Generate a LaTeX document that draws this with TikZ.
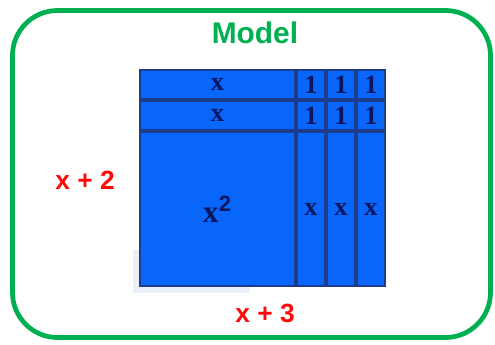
\documentclass[tikz,border=0pt]{standalone}
\usepackage{fontspec}
\setmainfont{Liberation Sans}
\newfontfamily\tileserif{Liberation Serif}
\usetikzlibrary{positioning}
\definecolor{ModelGreen}{HTML}{00B050}
\definecolor{TileBlue}{HTML}{0866FA}
\definecolor{TileEdge}{HTML}{1C3C8C}
\definecolor{TileInk}{HTML}{0C1660}
\definecolor{LabelRed}{HTML}{FF0A0A}
\definecolor{ShadowBlue}{HTML}{EAF0F8}

\begin{document}
\begin{tikzpicture}[
      node distance=0.04cm and 0.04cm,
      tile/.style={draw=TileEdge,line width=0.6pt,fill=TileBlue,text=TileInk,
                   inner sep=0pt,outer sep=0pt,font=\tileserif\bfseries\fontsize{15}{17}\selectfont},
      xstrip/.style={tile,minimum width=3.1cm,minimum height=0.58cm},
      unittile/.style={tile,minimum width=0.56cm,minimum height=0.58cm},
      xcol/.style={tile,minimum width=0.56cm,minimum height=3.08cm},
      sqtile/.style={tile,minimum width=3.1cm,minimum height=3.08cm},
      lbl/.style={font=\bfseries\fontsize{15}{17}\selectfont,text=LabelRed},
    ]
    \useasboundingbox (0,0) rectangle (9.9,6.9);
    % frame
    \draw[ModelGreen,line width=2.7pt,rounded corners=0.9cm] (0.25,0.15) rectangle (9.81,6.69);
    \node[font=\bfseries\fontsize{17}{19}\selectfont,text=ModelGreen] (title) at (5.1,6.24) {Model};
    % faint shadow under the square
    \fill[ShadowBlue] (2.66,1.04) rectangle (5.0,1.9);

    \node[xstrip] (x1) at (4.35,5.21) {x};
    \node[xstrip,below=of x1] (x2) {x};
    \node[sqtile,below=of x2] (sq) {\fontsize{18}{20}\selectfont x$^{\mathbf{2}}$};

    \node[unittile,right=of x1] (u11) {1};
    \node[unittile,right=of u11] (u12) {1};
    \node[unittile,right=of u12] (u13) {1};
    \node[unittile,right=of x2] (u21) {1};
    \node[unittile,right=of u21] (u22) {1};
    \node[unittile,right=of u22] (u23) {1};

    \node[xcol,right=of sq] (c1) {x};
    \node[xcol,right=of c1] (c2) {x};
    \node[xcol,right=of c2] (c3) {x};

    \node[lbl] (side) at (1.7,3.3) {x + 2};
    \node[lbl] (base) at (5.3,0.64) {x + 3};
  \end{tikzpicture}
\end{document}
